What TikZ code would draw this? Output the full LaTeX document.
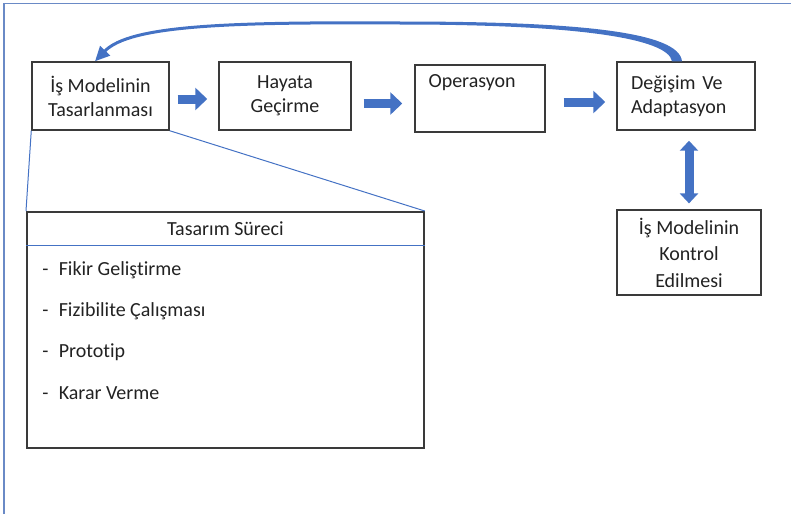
\documentclass[tikz,border=0pt]{standalone}
\usepackage{fontspec}
\setmainfont{Carlito}[Ligatures=NoCommon]
\usepackage{xcolor}
\usepackage{tikz}
\usetikzlibrary{arrows.meta,positioning,calc}

\definecolor{arrowblue}{HTML}{4472C4}
\definecolor{frameblue}{HTML}{6A8AC6}
\definecolor{boxgray}{HTML}{3A3A3A}
\definecolor{textgray}{HTML}{222222}
\newcommand{\boxfont}{\fontsize{15}{18}\selectfont}

\begin{document}
\begin{tikzpicture}[
    x=0.75pt, y=-0.75pt,
    every node/.style={text=textgray},
    box/.style={rectangle, draw=boxgray, line width=1.1pt, minimum height=51pt, align=center, font=\boxfont},
    link/.style={draw=arrowblue, line width=0.75pt},
    fatarrow/.style={draw=arrowblue, line width=6.75pt, -{Triangle[length=9pt, width=16.5pt]}},
    bothway/.style={draw=arrowblue, line width=6.75pt, {Triangle[length=7.5pt, width=13.5pt]}-{Triangle[length=7.5pt, width=13.5pt]}},
    item/.style={anchor=west, inner sep=0pt, font=\boxfont}
]
    \useasboundingbox (0,0) rectangle (791,514);
    % frame
    \draw[frameblue, line width=0.9pt] (4,514) -- (4,3.5) -- (791,3.5);

    \node[box, minimum width=102.75pt] (box1) at (100.5,96) {İş Modelinin\\Tasarlanması};
    \node[box, minimum width=99pt, right=36.4pt of box1] (box2) {Hayata\\Geçirme};
    \node[box, minimum width=97.5pt, minimum height=50.25pt, right=46.9pt of box2, yshift=-1.9pt] (box3) {};
    \node[anchor=west, font=\boxfont, inner sep=0pt] (box3text) at ($(box3.north west)+(14,18)$) {Operasyon};
    \node[box, minimum width=103.5pt, text width=82.5pt, inner xsep=10.5pt, align=left, right=52.9pt of box3, yshift=1.9pt] (box4) {Değişim Ve\\Adaptasyon};
    \node[box, minimum width=108pt, minimum height=63.75pt, font=\fontsize{15}{20}\selectfont, below=59pt of box4, xshift=2.25pt] (box5) {İş Modelinin\\Kontrol\\Edilmesi};

    % design process box
    \node[rectangle, draw=boxgray, line width=1.3pt, minimum width=297.75pt, minimum height=177pt, anchor=north west] (design) at (26,211) {};
    \node[font=\boxfont] (head) at ($(design.north)+(0,18)$) {Tasarım Süreci};
    \draw[link] ($(design.north west)+(0,34)$) -- ($(design.north east)+(0,34)$);
    \foreach \txt [count=\i] in {Fikir Geliştirme, Fizibilite Çalışması, Prototip, Karar Verme}
        \node[item] (item\i) at ($(design.north west)+(16,{18+41*\i})$) {\makebox[12.4pt][l]{-}\txt};

    \draw[link] (box1.south west) -- (design.north west);
    \draw[link] (box1.south east) -- (design.north east);

    % block arrows
    \draw[fatarrow] ($(box1.east)+(8,3)$) -- ($(box1.east -| box2.west)+(-11,3)$);
    \draw[fatarrow] ($(box2.east)+(12,7.5)$) -- ($(box2.east -| box3.west)+(-12,7.5)$);
    \draw[fatarrow] ($(box4.west -| box3.east)+(18,6)$) -- ($(box4.west)+(-11,6)$);
    \draw[bothway] ($(box5.north |- box4.south)+(0,10)$) -- ($(box5.north)+(0,-6)$);

    % feedback loop
    \coordinate (loopTop) at (400,23);
    \fill[arrowblue] ($(box4.north)+(-4,0)$) .. controls (679,32) and (580,21.5) .. ($(loopTop)+(0,-1.5)$)
        -- ($(loopTop)+(0,1.5)$) .. controls (575,24.5) and (668,38) .. ($(box4.north)+(-14,0)$) -- cycle;
    \draw[arrowblue, line width=2.25pt, -{Triangle[length=11pt, width=10pt]}] (loopTop) .. controls (230,22) and (130,25) .. ($(box1.north)+(-5.5,0)$);
\end{tikzpicture}
\end{document}
